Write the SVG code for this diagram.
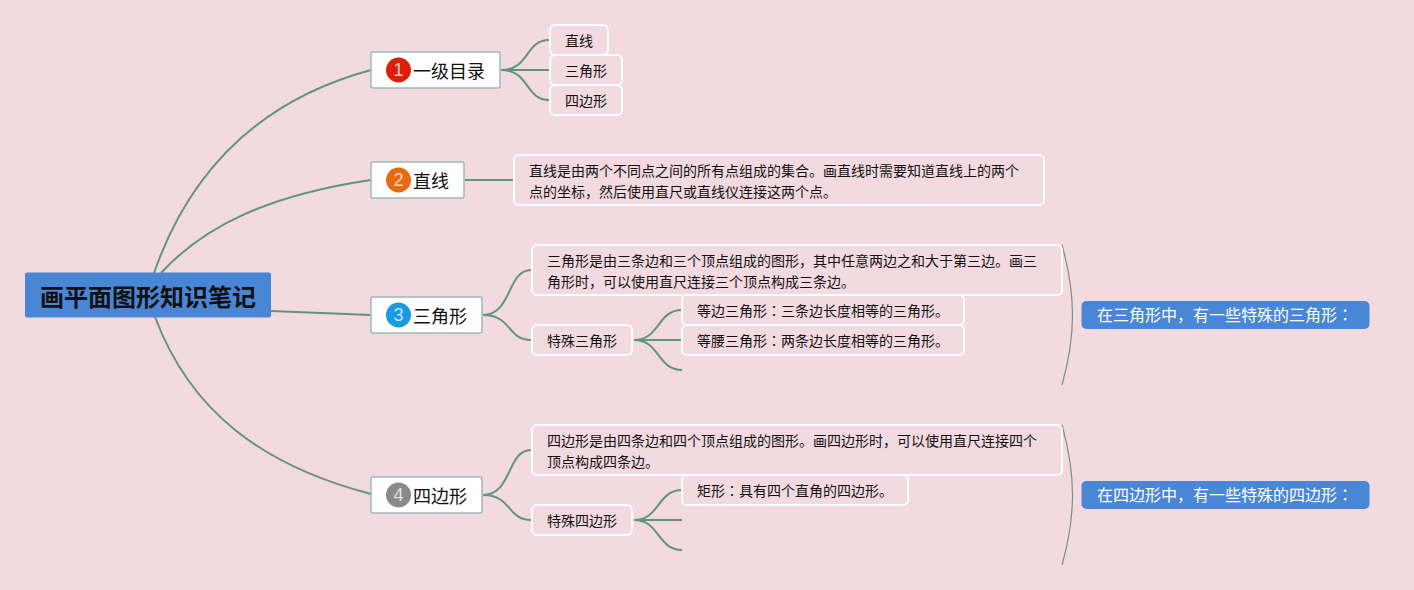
<svg xmlns="http://www.w3.org/2000/svg" width="1414" height="590" viewBox="0 0 1414 590">
<style>
text{font-family:"Noto Sans CJK SC","Liberation Sans",sans-serif;}
.k{font-family:"Noto Sans CJK JP",sans-serif;}
.c{fill:none;stroke:#5f9580;stroke-width:2;}
.b{fill:none;stroke:#6d9485;stroke-width:1.2;}
.t1{fill:#fff;stroke:#9dbab0;stroke-width:1.5;}
.t2{fill:none;stroke:#fff;stroke-width:2;}
.l1{font-size:18px;fill:#111;}
.l2{font-size:14px;fill:#111;}
.n{font-family:"Liberation Sans",sans-serif;font-size:18px;fill:#fff;fill-opacity:.75;text-anchor:middle;}
.s{fill:#4a86d6;}
.st{font-size:16px;fill:#fff;}
</style>
<rect width="1414" height="590" fill="#f3d9e0"/>
<g id="connectors">
<path class="c" d="M154 273C190 170 260 100 371 70"/>
<path class="c" d="M161 273C205 225 270 195 371 180"/>
<path class="c" d="M271 311L371 315"/>
<path class="c" d="M155 317C190 410 260 465 371 494"/>
<path class="c" d="M501 70C530 70 525 40 549 40"/>
<path class="c" d="M501 70H549"/>
<path class="c" d="M501 70C530 70 525 100 549 100"/>
<path class="c" d="M465 180H514"/>
<path class="c" d="M483 315C512 315 507 270 531 270"/>
<path class="c" d="M483 315C512 315 507 340 531 340"/>
<path class="c" d="M634 340C660 340 657 310 682 310"/>
<path class="c" d="M634 340H682"/>
<path class="c" d="M634 340C660 340 657 370 682 370"/>
<path class="c" d="M483 495C512 495 507 450 531 450"/>
<path class="c" d="M483 495C512 495 507 520 531 520"/>
<path class="c" d="M634 520C660 520 657 490 682 490"/>
<path class="c" d="M634 520H682"/>
<path class="c" d="M634 520C660 520 657 550 682 550"/>
<path class="b" d="M1062 245C1076 295 1076 335 1062 385"/>
<path class="b" d="M1062 425C1076 475 1076 515 1062 565"/>
</g>
<g id="root"><rect x="25" y="272.500" width="246" height="45" rx="2" class="s"/><text x="40" y="306" font-size="24" font-weight="700" fill="#111">画平面图形知识笔记</text></g>
<g id="n1"><rect x="371" y="52" width="129" height="36" rx="2" class="t1"/><circle cx="398.500" cy="70" r="12.500" fill="#dc1f0b"/><text class="n" x="398.500" y="76">1</text><text class="l1" x="413" y="78">一级目录</text></g>
<g id="n1a"><rect x="550" y="25" width="58" height="30" rx="5" class="t2"/><text class="l2" x="565" y="46">直线</text></g>
<g id="n1b"><rect x="550" y="55" width="72" height="30" rx="5" class="t2"/><text class="l2" x="565" y="76">三角形</text></g>
<g id="n1c"><rect x="550" y="85" width="72" height="30" rx="5" class="t2"/><text class="l2" x="565" y="106">四边形</text></g>
<g id="n2"><rect x="371" y="162" width="93" height="36" rx="2" class="t1"/><circle cx="398.500" cy="180" r="12.500" fill="#e66a12"/><text class="n" x="398.500" y="186">2</text><text class="l1" x="413" y="188">直线</text></g>
<g id="n2a"><rect x="514" y="155" width="530" height="50" rx="5" class="t2"/><text class="l2" x="529" y="176">直线是由两个不同点之间的所有点组成的集合。画直线时需要知道直线上的两个</text><text class="l2" x="529" y="197">点的坐标，然后使用直尺或直线仪连接这两个点。</text></g>
<g id="n3"><rect x="371" y="297" width="111" height="36" rx="2" class="t1"/><circle cx="398.500" cy="315" r="12.500" fill="#1a9ae0"/><text class="n" x="398.500" y="321">3</text><text class="l1" x="413" y="323">三角形</text></g>
<g id="n3a"><rect x="532" y="245" width="530" height="50" rx="5" class="t2"/><text class="l2" x="547" y="266">三角形是由三条边和三个顶点组成的图形，其中任意两边之和大于第三边。画三</text><text class="l2" x="547" y="287">角形时，可以使用直尺连接三个顶点构成三条边。</text></g>
<g id="n3b"><rect x="532" y="325" width="100" height="30" rx="5" class="t2"/><text class="l2" x="547" y="346">特殊三角形</text></g>
<g id="n3b1"><rect x="682" y="295" width="282" height="30" rx="5" class="t2"/><text class="l2" x="697" y="316">等边三角形<tspan class="k">：</tspan>三条边长度相等的三角形。</text></g>
<g id="n3b2"><rect x="682" y="325" width="282" height="30" rx="5" class="t2"/><text class="l2" x="697" y="346">等腰三角形<tspan class="k">：</tspan>两条边长度相等的三角形。</text></g>
<g id="s3"><rect x="1081.500" y="301" width="288" height="28" rx="5" class="s"/><text class="st" x="1097" y="321">在三角形中，有一些特殊的三角形<tspan class="k">：</tspan></text></g>
<g id="n4"><rect x="371" y="477" width="111" height="36" rx="2" class="t1"/><circle cx="398.500" cy="495" r="12.500" fill="#8a8a8a"/><text class="n" x="398.500" y="501">4</text><text class="l1" x="413" y="503">四边形</text></g>
<g id="n4a"><rect x="532" y="425" width="530" height="50" rx="5" class="t2"/><text class="l2" x="547" y="446">四边形是由四条边和四个顶点组成的图形。画四边形时，可以使用直尺连接四个</text><text class="l2" x="547" y="467">顶点构成四条边。</text></g>
<g id="n4b"><rect x="532" y="505" width="100" height="30" rx="5" class="t2"/><text class="l2" x="547" y="526">特殊四边形</text></g>
<g id="n4b1"><rect x="682" y="475" width="226" height="30" rx="5" class="t2"/><text class="l2" x="697" y="496">矩形<tspan class="k">：</tspan>具有四个直角的四边形。</text></g>
<g id="s4"><rect x="1081.500" y="481" width="288" height="28" rx="5" class="s"/><text class="st" x="1097" y="501">在四边形中，有一些特殊的四边形<tspan class="k">：</tspan></text></g>
</svg>
